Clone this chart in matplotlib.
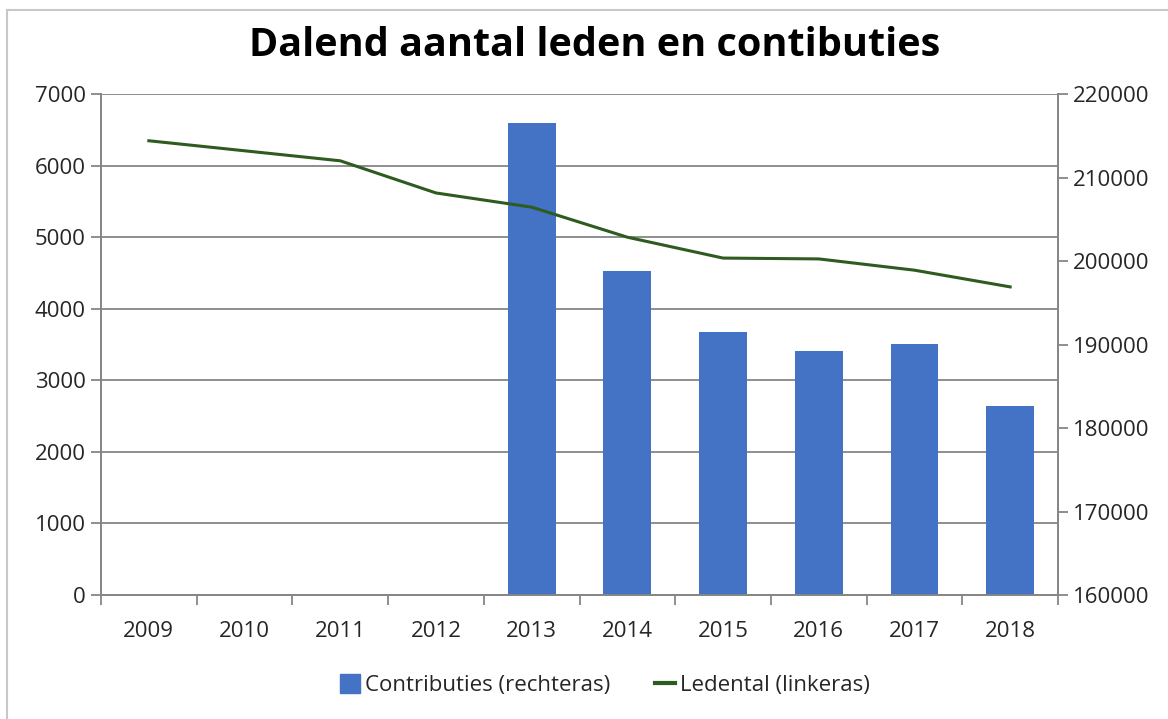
import numpy as np
import matplotlib
matplotlib.use('Agg')
import matplotlib.pyplot as plt
from matplotlib.lines import Line2D

plt.rcParams['font.family'] = ['Open Sans', 'DejaVu Sans']

# Data
years = ['2009', '2010', '2011', '2012', '2013', '2014', '2015', '2016', '2017', '2018']
contributies = [0, 0, 0, 0, 6600, 4530, 3680, 3410, 3505, 2640]
ledental = [214400, 213200, 212000, 208150, 206450, 202850, 200350, 200250, 198900, 196900]

bar_color = '#4472C4'
line_color = '#2E5B1F'
grid_color = '#868686'
text_color = '#262626'

fig = plt.figure(figsize=(11.68, 7.19), dpi=100)
ax = fig.add_axes([101 / 1168, 1 - 595 / 719, (1058 - 101) / 1168, (595 - 94) / 719])
ax2 = ax.twinx()

x = np.arange(len(years))
ax.bar(x, contributies, width=0.5, color=bar_color, zorder=3)
ax2.plot(x, ledental, color=line_color, lw=2.2, zorder=4)

ax.set_xlim(-0.5, len(years) - 0.5)
ax.set_ylim(0, 7000)
ax.set_yticks(np.arange(0, 7001, 1000))
ax2.set_ylim(160000, 220000)
ax2.set_yticks(np.arange(160000, 220001, 10000))

ax.set_xticks(x)
ax.set_xticklabels(years)
ax.set_xticks(np.arange(-0.5, len(years), 1.0), minor=True)
ax.tick_params(axis='x', which='major', length=0, pad=19)
ax.tick_params(axis='x', which='minor', length=7, width=1.3, color=grid_color, direction='out')
ax.tick_params(axis='y', length=7, width=1.3, color=grid_color, pad=4)
ax2.tick_params(axis='y', length=7, width=1.3, color=grid_color, pad=4)
for a in (ax, ax2):
    a.tick_params(labelsize=16, labelcolor=text_color)

ax.yaxis.grid(True, color=grid_color, lw=1.3, zorder=0)
ax.set_axisbelow(True)
for a in (ax, ax2):
    a.spines['top'].set_visible(False)
    for s in ('left', 'right', 'bottom'):
        a.spines[s].set_color(grid_color)
        a.spines[s].set_linewidth(1.3)
ax2.set_zorder(ax.get_zorder() + 1)
ax2.patch.set_visible(False)

fig.text(0.509, 1 - 45 / 719, 'Dalend aantal leden en contibuties', ha='center', va='center',
         fontsize=28.5, fontweight='bold', color='black')

handles = [plt.Rectangle((0, 0), 1, 1, color=bar_color),
           Line2D([0], [0], color=line_color, lw=3)]
fig.legend(handles, ['Contributies (rechteras)', 'Ledental (linkeras)'], loc='center',
           bbox_to_anchor=(0.518, 1 - 685 / 719), ncol=2, frameon=False, fontsize=16,
           handlelength=0.9, handleheight=0.9, handletextpad=0.25, columnspacing=2.0,
           labelcolor=text_color)

# light border around chart area
fig.add_artist(Line2D([7 / 1168, 7 / 1168], [0, 1 - 10 / 719], color='#C8C8C8', lw=1.5))
fig.add_artist(Line2D([7 / 1168, 1], [1 - 10 / 719, 1 - 10 / 719], color='#C8C8C8', lw=1.5))

fig.savefig('out.png', dpi=100, facecolor='white')
